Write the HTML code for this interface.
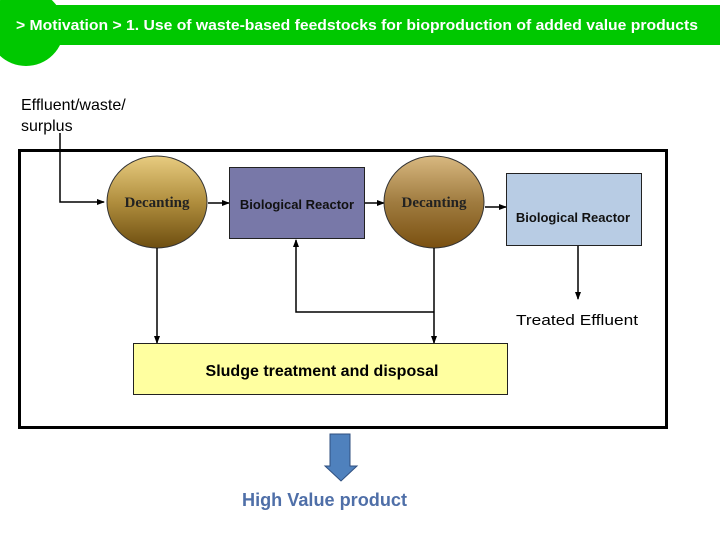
<!DOCTYPE html>
<html><head><style>
html,body{margin:0;padding:0;background:#fff;width:720px;height:540px;overflow:hidden}
</style></head><body>
<svg width="720" height="540" viewBox="0 0 720 540" xmlns="http://www.w3.org/2000/svg">
<defs>
<linearGradient id="g1" x1="0" y1="0" x2="0" y2="1">
<stop offset="0" stop-color="#e8cc80"/><stop offset="0.5" stop-color="#b08e3e"/><stop offset="1" stop-color="#6e4e10"/>
</linearGradient>
<linearGradient id="g2" x1="0" y1="0" x2="0" y2="1">
<stop offset="0" stop-color="#d8b880"/><stop offset="0.5" stop-color="#a07c40"/><stop offset="1" stop-color="#7a5010"/>
</linearGradient>
<marker id="a" markerWidth="8" markerHeight="8" refX="7" refY="4" orient="auto" markerUnits="userSpaceOnUse">
<path d="M0,1 L8,4 L0,7 z" fill="#000"/></marker>
</defs>
<rect x="0" y="5" width="720" height="40" fill="#00c800"/>
<circle cx="26" cy="28" r="38" fill="#00c800"/>
<text x="16" y="30" font-family="Liberation Sans, sans-serif" font-size="14.5" font-weight="bold" fill="#fff" textLength="682" lengthAdjust="spacingAndGlyphs">&gt; Motivation &gt; 1. Use of waste-based feedstocks for bioproduction of added value products</text>
<text x="21" y="110" font-family="Liberation Sans, sans-serif" font-size="16" fill="#000">Effluent/waste/</text>
<text x="21" y="131" font-family="Liberation Sans, sans-serif" font-size="16" fill="#000">surplus</text>
<rect x="19.5" y="150.5" width="647" height="277" fill="none" stroke="#000" stroke-width="3"/>
<polyline points="60,133 60,202 104,202" fill="none" stroke="#000" stroke-width="1.5" marker-end="url(#a)"/>
<ellipse cx="157" cy="202" rx="50" ry="46" fill="url(#g1)" stroke="#333"/>
<text x="157" y="207" text-anchor="middle" font-family="Liberation Serif, serif" font-size="15" font-weight="bold" fill="#222">Decanting</text>
<line x1="208" y1="203" x2="229" y2="203" stroke="#000" stroke-width="1.5" marker-end="url(#a)"/>
<rect x="229.5" y="167.5" width="135" height="71" fill="#7878a8" stroke="#222"/>
<text x="297" y="209" text-anchor="middle" font-family="Liberation Sans, sans-serif" font-size="13" font-weight="bold" fill="#111">Biological Reactor</text>
<line x1="365" y1="203" x2="384" y2="203" stroke="#000" stroke-width="1.5" marker-end="url(#a)"/>
<ellipse cx="434" cy="202" rx="50" ry="46" fill="url(#g2)" stroke="#333"/>
<text x="434" y="207" text-anchor="middle" font-family="Liberation Serif, serif" font-size="15" font-weight="bold" fill="#222">Decanting</text>
<line x1="485" y1="207" x2="506" y2="207" stroke="#000" stroke-width="1.5" marker-end="url(#a)"/>
<rect x="506.5" y="173.5" width="135" height="72" fill="#b8cce4" stroke="#222"/>
<text x="573" y="222" text-anchor="middle" font-family="Liberation Sans, sans-serif" font-size="13" font-weight="bold" fill="#111">Biological Reactor</text>
<line x1="578" y1="246" x2="578" y2="299" stroke="#000" stroke-width="1.5" marker-end="url(#a)"/>
<text x="516" y="325" font-family="Liberation Sans, sans-serif" font-size="14.5" fill="#000" textLength="122" lengthAdjust="spacingAndGlyphs">Treated Effluent</text>
<line x1="157" y1="248" x2="157" y2="343" stroke="#000" stroke-width="1.5" marker-end="url(#a)"/>
<line x1="434" y1="248" x2="434" y2="343" stroke="#000" stroke-width="1.5" marker-end="url(#a)"/>
<polyline points="434,312 296,312 296,240" fill="none" stroke="#000" stroke-width="1.5" marker-end="url(#a)"/>
<rect x="133.5" y="343.5" width="374" height="51" fill="#ffffa0" stroke="#222"/>
<text x="322" y="376" text-anchor="middle" font-family="Liberation Sans, sans-serif" font-size="16" font-weight="bold" fill="#000">Sludge treatment and disposal</text>
<path d="M330,434 H350 V466 H357 L341,481 L325,466 H330 Z" fill="#4f81bd" stroke="#2f4f7f"/>
<text x="242" y="506" font-family="Liberation Sans, sans-serif" font-size="18" font-weight="bold" fill="#4f6fa8" textLength="165" lengthAdjust="spacingAndGlyphs">High Value product</text>
</svg>
</body></html>
